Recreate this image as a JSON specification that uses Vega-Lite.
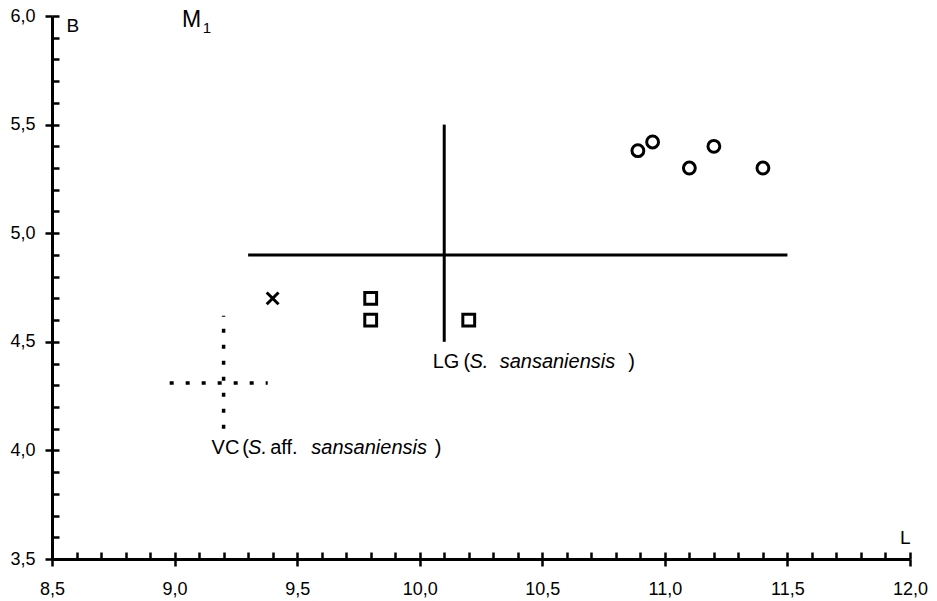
{
  "$schema": "https://vega.github.io/schema/vega-lite/v6.json",
  "width": 858,
  "height": 543,
  "autosize": "none",
  "padding": {"left": 52, "top": 16, "right": 27, "bottom": 42},
  "background": "white",
  "config": {
    "view": {"stroke": null},
    "font": "Liberation Sans",
    "axis": {"grid": false}
  },
  "datasets": {
    "specimens": [
      {"L": 10.89, "B": 5.38, "group": "circle"},
      {"L": 10.95, "B": 5.42, "group": "circle"},
      {"L": 11.1, "B": 5.3, "group": "circle"},
      {"L": 11.2, "B": 5.4, "group": "circle"},
      {"L": 11.4, "B": 5.3, "group": "circle"},
      {"L": 9.8, "B": 4.7, "group": "square"},
      {"L": 9.8, "B": 4.6, "group": "square"},
      {"L": 10.2, "B": 4.6, "group": "square"},
      {"L": 9.4, "B": 4.7, "group": "cross"}
    ],
    "rangeLG": [
      {"L": 9.3, "L2": 11.5, "B": 4.9, "B2": 4.9},
      {"L": 10.1, "L2": 10.1, "B": 4.5, "B2": 5.5}
    ],
    "rangeVC": [
      {"L": 8.98, "L2": 9.38, "B": 4.31, "B2": 4.31},
      {"L": 9.2, "L2": 9.2, "B": 4.1, "B2": 4.62}
    ],
    "labelsUpright": [
      {"L": 9.151, "B": 4.013, "text": "VC"},
      {"L": 9.276, "B": 4.013, "text": "("},
      {"L": 9.39, "B": 4.013, "text": "aff."},
      {"L": 10.061, "B": 4.013, "text": ")"},
      {"L": 10.053, "B": 4.407, "text": "LG"},
      {"L": 10.179, "B": 4.407, "text": "("},
      {"L": 10.851, "B": 4.407, "text": ")"}
    ],
    "labelsItalic": [
      {"L": 9.3, "B": 4.013, "text": "S."},
      {"L": 9.558, "B": 4.013, "text": "sansaniensis"},
      {"L": 10.203, "B": 4.407, "text": "S."},
      {"L": 10.326, "B": 4.407, "text": "sansaniensis"}
    ],
    "toothM": [{"L": 9.03, "B": 5.98, "text": "M"}],
    "toothIndex": [{"L": 9.115, "B": 5.947, "text": "1"}]
  },
  "layer": [
    {
      "data": {"name": "specimens"},
      "mark": {"type": "point", "filled": false, "stroke": "black", "strokeWidth": 3, "opacity": 1, "size": 140},
      "encoding": {
        "x": {
          "field": "L", "type": "quantitative",
          "scale": {"domain": [8.5, 12], "nice": false, "zero": false},
          "axis": {
            "orient": "bottom",
            "values": [8.5, 9, 9.5, 10, 10.5, 11, 11.5, 12],
            "labelExpr": "replace(format(datum.value, '.1f'), '.', ',')",
            "tickSize": 7, "tickWidth": 2.5, "tickColor": "black",
            "domainColor": "black", "domainWidth": 3,
            "labelFontSize": 18, "labelColor": "black", "labelPadding": 14,
            "labelFlush": false, "labelOverlap": false,
            "title": "L", "titleX": 858, "titleY": -16,
            "titleAlign": "right", "titleBaseline": "alphabetic",
            "titleFontSize": 19, "titleFontWeight": "normal", "titleColor": "black"
          }
        },
        "y": {
          "field": "B", "type": "quantitative",
          "scale": {"domain": [3.5, 6], "nice": false, "zero": false},
          "axis": {
            "orient": "left",
            "values": [3.5, 4, 4.5, 5, 5.5, 6],
            "labelExpr": "replace(format(datum.value, '.1f'), '.', ',')",
            "tickSize": 7, "tickWidth": 2.5, "tickColor": "black",
            "domainColor": "black", "domainWidth": 3,
            "labelFontSize": 18, "labelColor": "black", "labelPadding": 10,
            "labelFlush": false, "labelOverlap": false,
            "title": "B", "titleAngle": 0, "titleX": 14, "titleY": 9,
            "titleAlign": "left", "titleBaseline": "middle",
            "titleFontSize": 19, "titleFontWeight": "normal", "titleColor": "black"
          }
        },
        "shape": {
          "field": "group", "type": "nominal",
          "scale": {"domain": ["circle", "square", "cross"], "range": ["circle", "square", "M-1,-1L1,1M-1,1L1,-1"]},
          "legend": null
        }
      }
    },
    {
      "data": {"name": "rangeLG"},
      "mark": {"type": "rule", "color": "black", "strokeWidth": 3},
      "encoding": {
        "x": {
          "field": "L", "type": "quantitative",
          "scale": {"domain": [8.5, 12], "nice": false, "zero": false},
          "axis": {
            "orient": "bottom",
            "values": [8.5, 8.6, 8.7, 8.8, 8.9, 9.0, 9.1, 9.2, 9.3, 9.4, 9.5, 9.6, 9.7, 9.8, 9.9, 10.0, 10.1, 10.2, 10.3, 10.4, 10.5, 10.6, 10.7, 10.8, 10.9, 11.0, 11.1, 11.2, 11.3, 11.4, 11.5, 11.6, 11.7, 11.8, 11.9, 12.0],
            "tickSize": -7, "tickWidth": 2.5, "tickColor": "black",
            "domain": false, "labels": false, "title": null
          }
        },
        "x2": {"field": "L2"},
        "y": {
          "field": "B", "type": "quantitative",
          "scale": {"domain": [3.5, 6], "nice": false, "zero": false},
          "axis": {
            "orient": "left",
            "values": [3.5, 3.6, 3.7, 3.8, 3.9, 4.0, 4.1, 4.2, 4.3, 4.4, 4.5, 4.6, 4.7, 4.8, 4.9, 5.0, 5.1, 5.2, 5.3, 5.4, 5.5, 5.6, 5.7, 5.8, 5.9, 6.0],
            "tickSize": -7, "tickWidth": 2.5, "tickColor": "black",
            "domain": false, "labels": false, "title": null
          }
        },
        "y2": {"field": "B2"}
      }
    },
    {
      "data": {"name": "rangeVC"},
      "mark": {"type": "rule", "color": "black", "strokeWidth": 3.5, "strokeDash": [4, 12], "strokeCap": "butt"},
      "encoding": {
        "x": {"field": "L", "type": "quantitative", "axis": null},
        "x2": {"field": "L2"},
        "y": {"field": "B", "type": "quantitative", "axis": null},
        "y2": {"field": "B2"}
      }
    },
    {
      "data": {"name": "labelsUpright"},
      "mark": {"type": "text", "align": "left", "baseline": "middle", "fontSize": 20, "color": "black"},
      "encoding": {
        "x": {"field": "L", "type": "quantitative", "axis": null},
        "y": {"field": "B", "type": "quantitative", "axis": null},
        "text": {"field": "text"}
      }
    },
    {
      "data": {"name": "labelsItalic"},
      "mark": {"type": "text", "align": "left", "baseline": "middle", "fontSize": 20, "fontStyle": "italic", "color": "black"},
      "encoding": {
        "x": {"field": "L", "type": "quantitative", "axis": null},
        "y": {"field": "B", "type": "quantitative", "axis": null},
        "text": {"field": "text"}
      }
    },
    {
      "data": {"name": "toothM"},
      "mark": {"type": "text", "align": "left", "baseline": "middle", "fontSize": 23, "color": "black"},
      "encoding": {
        "x": {"field": "L", "type": "quantitative", "axis": null},
        "y": {"field": "B", "type": "quantitative", "axis": null},
        "text": {"field": "text"}
      }
    },
    {
      "data": {"name": "toothIndex"},
      "mark": {"type": "text", "align": "left", "baseline": "middle", "fontSize": 15, "color": "black"},
      "encoding": {
        "x": {"field": "L", "type": "quantitative", "axis": null},
        "y": {"field": "B", "type": "quantitative", "axis": null},
        "text": {"field": "text"}
      }
    }
  ],
  "resolve": {"axis": {"x": "independent", "y": "independent"}}
}
